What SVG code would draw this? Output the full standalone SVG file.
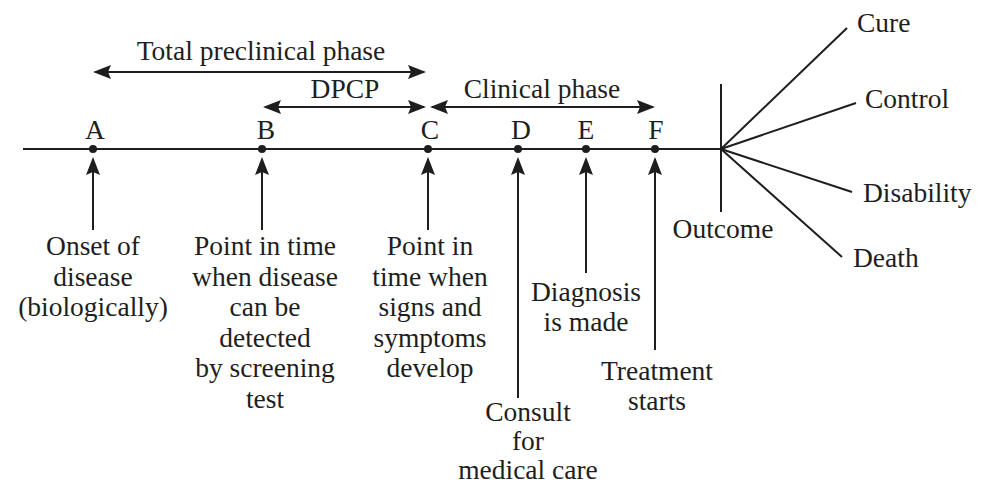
<svg xmlns="http://www.w3.org/2000/svg" width="983" height="486" viewBox="0 0 983 486">
<style>
 .ln{stroke:#1e1e1e;stroke-width:2;fill:none}
 .ar{stroke:#1e1e1e;stroke-width:2;fill:none;marker-end:url(#ah)}
 .da{stroke:#1e1e1e;stroke-width:2;fill:none;marker-start:url(#ah);marker-end:url(#ah)}
 .dot{fill:#1e1e1e}
 .t{font-family:'Liberation Serif','Times New Roman','DejaVu Serif',serif;font-size:27.5px;fill:#1e1e1e}
 .c{text-anchor:middle}
</style>
<defs>
 <marker id="ah" viewBox="0 -7 18 14" refX="16" refY="0" markerWidth="18" markerHeight="14" markerUnits="userSpaceOnUse" orient="auto-start-reverse">
  <path d="M0,-7 L18,0 L0,7 L3,0 z" fill="#1e1e1e"/>
 </marker>
</defs>
<rect width="983" height="486" fill="#ffffff"/>
<g id="connectors">
 <line class="ln" x1="23" y1="149" x2="721" y2="149"/>
 <line class="da" x1="95" y1="72" x2="424" y2="72"/>
 <line class="da" x1="265" y1="107" x2="424" y2="107"/>
 <line class="da" x1="432" y1="107" x2="653" y2="107"/>
 <line class="ar" x1="93" y1="230" x2="93" y2="159"/>
 <line class="ar" x1="262" y1="230" x2="262" y2="159"/>
 <line class="ar" x1="428" y1="230" x2="428" y2="159"/>
 <line class="ar" x1="518" y1="398" x2="518" y2="159"/>
 <line class="ar" x1="586" y1="273" x2="586" y2="159"/>
 <line class="ar" x1="655" y1="350" x2="655" y2="159"/>
 <line class="ln" x1="721" y1="84" x2="721" y2="212"/>
 <line class="ln" x1="721" y1="149" x2="847" y2="28"/>
 <line class="ln" x1="721" y1="149" x2="856" y2="103"/>
 <line class="ln" x1="721" y1="149" x2="852" y2="192"/>
 <line class="ln" x1="721" y1="149" x2="842" y2="257"/>
</g>
<g id="phase-total"><text class="t c" x="261" y="60">Total preclinical phase</text></g>
<g id="phase-dpcp"><text class="t c" x="345" y="98">DPCP</text></g>
<g id="phase-clinical"><text class="t c" x="542" y="98">Clinical phase</text></g>
<g id="node-A">
 <circle class="dot" cx="93" cy="149" r="4"/>
 <text class="t c" x="95" y="139">A</text>
 <text class="t c" x="93" y="255">Onset of</text>
 <text class="t c" x="93" y="286">disease</text>
 <text class="t c" x="93" y="316">(biologically)</text>
</g>
<g id="node-B">
 <circle class="dot" cx="262" cy="149" r="4"/>
 <text class="t c" x="266" y="139">B</text>
 <text class="t c" x="265" y="255">Point in time</text>
 <text class="t c" x="265" y="286">when disease</text>
 <text class="t c" x="265" y="316">can be</text>
 <text class="t c" x="265" y="347">detected</text>
 <text class="t c" x="265" y="377">by screening</text>
 <text class="t c" x="265" y="408">test</text>
</g>
<g id="node-C">
 <circle class="dot" cx="428" cy="149" r="4"/>
 <text class="t c" x="430" y="139">C</text>
 <text class="t c" x="430" y="255">Point in</text>
 <text class="t c" x="430" y="286">time when</text>
 <text class="t c" x="430" y="316">signs and</text>
 <text class="t c" x="430" y="347">symptoms</text>
 <text class="t c" x="430" y="377">develop</text>
</g>
<g id="node-D">
 <circle class="dot" cx="518" cy="149" r="4"/>
 <text class="t c" x="521" y="139">D</text>
 <text class="t c" x="528" y="421">Consult</text>
 <text class="t c" x="528" y="450">for</text>
 <text class="t c" x="528" y="479">medical care</text>
</g>
<g id="node-E">
 <circle class="dot" cx="586" cy="149" r="4"/>
 <text class="t c" x="586" y="139">E</text>
 <text class="t c" x="586" y="301">Diagnosis</text>
 <text class="t c" x="586" y="331">is made</text>
</g>
<g id="node-F">
 <circle class="dot" cx="655" cy="149" r="4"/>
 <text class="t c" x="656" y="139">F</text>
 <text class="t c" x="657" y="380">Treatment</text>
 <text class="t c" x="657" y="410">starts</text>
</g>
<g id="node-outcome"><text class="t c" x="723" y="238">Outcome</text></g>
<g id="node-cure"><text class="t" x="857" y="32">Cure</text></g>
<g id="node-control"><text class="t" x="865" y="108">Control</text></g>
<g id="node-disability"><text class="t" x="863" y="202">Disability</text></g>
<g id="node-death"><text class="t" x="853" y="267">Death</text></g>
</svg>
